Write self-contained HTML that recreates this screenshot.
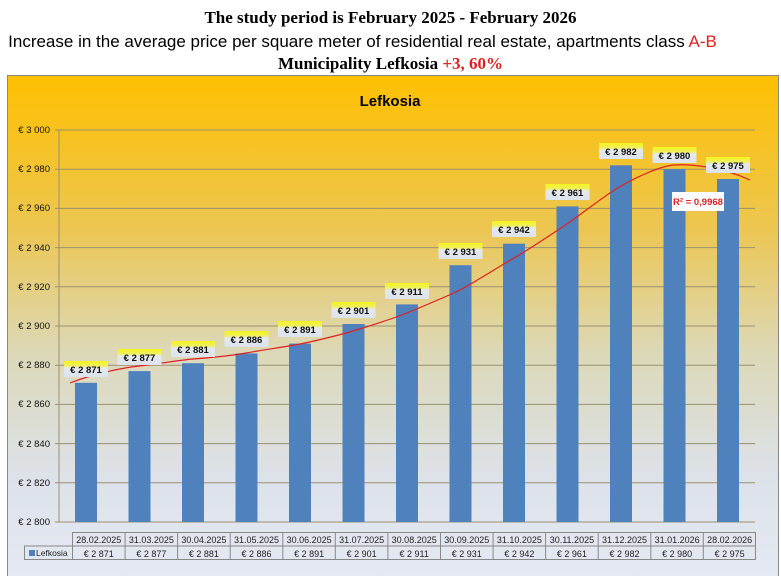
<!DOCTYPE html>
<html><head><meta charset="utf-8"><style>
body{margin:0;width:781px;height:576px;background:#fff;overflow:hidden;position:relative}
.t{position:absolute;left:0;width:781px;text-align:center;white-space:nowrap}
</style></head><body>
<div class="t" style="top:8px;font:bold 17px 'Liberation Serif',serif">The study period is February 2025 - February 2026</div>
<div class="t" style="top:32px;left:-28px;font:17px 'Liberation Sans',sans-serif">Increase in the average price per square meter of residential real estate, apartments class <span style="color:#e02020">A-B</span></div>
<div class="t" style="top:54px;font:bold 17px 'Liberation Serif',serif">Municipality Lefkosia <span style="color:#e02020">+3, 60%</span></div>
<svg style="position:absolute;left:0;top:0" width="781" height="576" font-family="Liberation Sans, sans-serif">
<defs><linearGradient id="g" x1="0" y1="0" x2="0" y2="1">
<stop offset="0" stop-color="#ffc000"/><stop offset="0.3" stop-color="#ecc650"/><stop offset="0.55" stop-color="#dcd8b8"/><stop offset="0.8" stop-color="#dde2ea"/><stop offset="1" stop-color="#e4e9f3"/></linearGradient>
<linearGradient id="lb" x1="0" y1="0" x2="0" y2="1"><stop offset="0" stop-color="#f4f41a"/><stop offset="0.3" stop-color="#f0f060"/><stop offset="0.45" stop-color="#e4e8ee"/><stop offset="1" stop-color="#dde3ec"/></linearGradient></defs>
<rect x="7.5" y="75.5" width="771" height="505" fill="url(#g)" stroke="#888"/>
<text x="390" y="106" text-anchor="middle" font-weight="bold" font-size="15">Lefkosia</text>
<g stroke="#9a9070" stroke-width="1">
<line x1="55" x2="755" y1="130" y2="130"/><line x1="55" x2="755" y1="169.2" y2="169.2"/><line x1="55" x2="755" y1="208.4" y2="208.4"/><line x1="55" x2="755" y1="247.6" y2="247.6"/><line x1="55" x2="755" y1="286.8" y2="286.8"/><line x1="55" x2="755" y1="326" y2="326"/><line x1="55" x2="755" y1="365.2" y2="365.2"/><line x1="55" x2="755" y1="404.4" y2="404.4"/><line x1="55" x2="755" y1="443.6" y2="443.6"/><line x1="55" x2="755" y1="482.8" y2="482.8"/><line x1="55" x2="755" y1="522" y2="522"/>
<line x1="59" x2="59" y1="130" y2="522"/></g>
<g font-size="9.5" text-anchor="end" fill="#111">
<text x="50" y="133">€ 3 000</text><text x="50" y="172">€ 2 980</text><text x="50" y="211">€ 2 960</text><text x="50" y="251">€ 2 940</text><text x="50" y="290">€ 2 920</text><text x="50" y="329">€ 2 900</text><text x="50" y="368">€ 2 880</text><text x="50" y="407">€ 2 860</text><text x="50" y="447">€ 2 840</text><text x="50" y="486">€ 2 820</text><text x="50" y="525">€ 2 800</text></g>
<g fill="#4f81bd">
<rect x="75" y="382.8" width="22" height="139.2"/><rect x="128.5" y="371.1" width="22" height="150.9"/><rect x="182" y="363.2" width="22" height="158.8"/><rect x="235.5" y="353.4" width="22" height="168.6"/><rect x="289" y="343.6" width="22" height="178.4"/><rect x="342.5" y="324" width="22" height="198"/><rect x="396" y="304.4" width="22" height="217.6"/><rect x="449.5" y="265.2" width="22" height="256.8"/><rect x="503" y="243.7" width="22" height="278.3"/><rect x="556.5" y="206.4" width="22" height="315.6"/><rect x="610" y="165.3" width="22" height="356.7"/><rect x="663.5" y="169.2" width="22" height="352.8"/><rect x="717" y="179" width="22" height="343"/></g>
<path d="M70,383 C90,375 120,368 139,366 S180,360 193,359 S230,356 246,353 S285,347 300,344 S340,335 353,331 S395,318 407,313 S450,295 460,290 S500,266 514,258 S555,232 567,224 S605,195 621,186 S660,166 674,165 S720,166 750,180" fill="none" stroke="#e02020" stroke-width="1.2"/>
<g font-size="9.5" font-weight="bold" text-anchor="middle" fill="#111">
<rect x="64" y="361" width="44" height="16" fill="url(#lb)"/><text x="86" y="373">€ 2 871</text>
<rect x="117.5" y="349" width="44" height="16" fill="url(#lb)"/><text x="139.5" y="361">€ 2 877</text>
<rect x="171" y="341" width="44" height="16" fill="url(#lb)"/><text x="193" y="353">€ 2 881</text>
<rect x="224.5" y="331" width="44" height="16" fill="url(#lb)"/><text x="246.5" y="343">€ 2 886</text>
<rect x="278" y="321" width="44" height="16" fill="url(#lb)"/><text x="300" y="333">€ 2 891</text>
<rect x="331.5" y="302" width="44" height="16" fill="url(#lb)"/><text x="353.5" y="314">€ 2 901</text>
<rect x="385" y="283" width="44" height="16" fill="url(#lb)"/><text x="407" y="295">€ 2 911</text>
<rect x="438.5" y="243" width="44" height="16" fill="url(#lb)"/><text x="460.5" y="255">€ 2 931</text>
<rect x="492" y="221" width="44" height="16" fill="url(#lb)"/><text x="514" y="233">€ 2 942</text>
<rect x="545.5" y="184" width="44" height="16" fill="url(#lb)"/><text x="567.5" y="196">€ 2 961</text>
<rect x="599" y="143" width="44" height="16" fill="url(#lb)"/><text x="621" y="155">€ 2 982</text>
<rect x="652.5" y="147" width="44" height="16" fill="url(#lb)"/><text x="674.5" y="159">€ 2 980</text>
<rect x="706" y="157" width="44" height="16" fill="url(#lb)"/><text x="728" y="169">€ 2 975</text></g>
<rect x="672" y="192" width="52" height="19" fill="#fff"/>
<text x="698" y="205" text-anchor="middle" font-size="9.5" font-weight="bold" fill="#e02020">R² = 0,9968</text>
<g stroke="#888" fill="none" stroke-width="1">
<rect x="72.5" y="532.5" width="683" height="27"/><line x1="72.5" x2="755.5" y1="546" y2="546"/>
<rect x="24.5" y="546" width="48" height="13.5"/>
<path d="M125.1,532.5V559.5M177.6,532.5V559.5M230.2,532.5V559.5M282.8,532.5V559.5M335.3,532.5V559.5M387.9,532.5V559.5M440.5,532.5V559.5M493.1,532.5V559.5M545.6,532.5V559.5M598.2,532.5V559.5M650.8,532.5V559.5M703.3,532.5V559.5"/></g>
<rect x="29" y="550" width="6" height="6" fill="#4f81bd"/>
<text x="36" y="556" font-size="8.5" fill="#222">Lefkosia</text>
<g font-size="9" text-anchor="middle" fill="#222">
<text x="98.8" y="543">28.02.2025</text><text x="151.4" y="543">31.03.2025</text><text x="203.9" y="543">30.04.2025</text><text x="256.5" y="543">31.05.2025</text><text x="309.1" y="543">30.06.2025</text><text x="361.6" y="543">31.07.2025</text><text x="414.2" y="543">30.08.2025</text><text x="466.8" y="543">30.09.2025</text><text x="519.4" y="543">31.10.2025</text><text x="571.9" y="543">30.11.2025</text><text x="624.5" y="543">31.12.2025</text><text x="677.1" y="543">31.01.2026</text><text x="729.6" y="543">28.02.2026</text>
<text x="98.8" y="557">€ 2 871</text><text x="151.4" y="557">€ 2 877</text><text x="203.9" y="557">€ 2 881</text><text x="256.5" y="557">€ 2 886</text><text x="309.1" y="557">€ 2 891</text><text x="361.6" y="557">€ 2 901</text><text x="414.2" y="557">€ 2 911</text><text x="466.8" y="557">€ 2 931</text><text x="519.4" y="557">€ 2 942</text><text x="571.9" y="557">€ 2 961</text><text x="624.5" y="557">€ 2 982</text><text x="677.1" y="557">€ 2 980</text><text x="729.6" y="557">€ 2 975</text></g>
</svg>
</body></html>
